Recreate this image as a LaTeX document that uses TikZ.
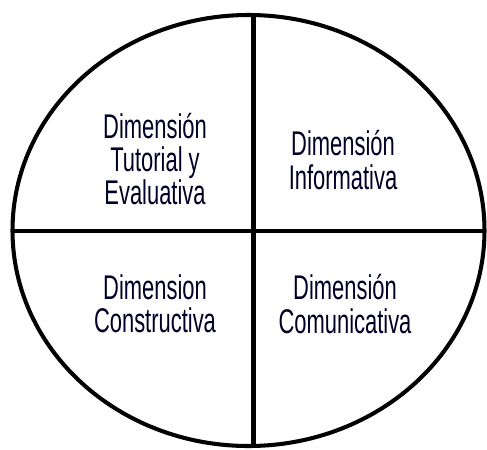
\documentclass[tikz,border=0pt]{standalone}
\usepackage{fontspec}
\setmainfont{Liberation Sans}
\begin{document}
\begin{tikzpicture}[scale=0.2]
\tikzstyle{every node}+=[inner sep=0pt]
\tikzstyle{dimtext}=[align=center, xscale=0.64, font=\fontsize{19.5}{19}\selectfont, text=black!85!blue]
\useasboundingbox (0,0) rectangle (48.7,-44.9);
\draw [black, line width=2.3pt] (24.85,-23.05) ellipse (23.6 and 21.55);
\coordinate (top) at (25.35,-1.5);
\coordinate (bottom) at (25.35,-44.6);
\coordinate (left) at (1.25,-23.1);
\coordinate (right) at (48.45,-23.1);
\draw [black, line width=2.3pt] (top) -- (bottom);
\draw [black, line width=2.3pt] (left) -- (right);
\draw (15.5,-15.9) node (tutorial) [dimtext] {Dimensión\\Tutorial y\\Evaluativa};
\draw (34.3,-16.0) node (informativa) [dimtext] {Dimensión\\Informativa};
\draw (15.5,-30.4) node (constructiva) [dimtext] {Dimension\\Constructiva};
\draw (34.5,-30.4) node (comunicativa) [dimtext] {Dimensión\\Comunicativa};
\end{tikzpicture}
\end{document}
